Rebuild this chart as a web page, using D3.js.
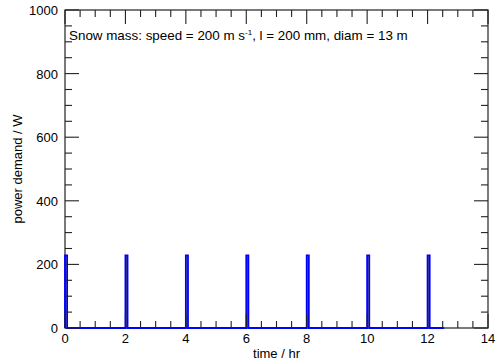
<!DOCTYPE html>
<html>
<head>
<meta charset="utf-8">
<script src="https://cdn.jsdelivr.net/npm/d3@7"></script>
<style>
  body { margin: 0; background: #fff; }
  text { font-family: "Liberation Sans", Arial, sans-serif; fill: #000; }
</style>
</head>
<body>
<div id="chart"></div>
<script>
// data
const spikeTimes = [0, 2, 4, 6, 8, 10, 12];   // hr, start of each spike
const spikePower = [228, 228, 228, 228, 228, 228, 228]; // W
const spikeLength = 0.07;   // hr
const runEnd = 12.55;       // hr, where the base line stops
const xTicks = [0, 2, 4, 6, 8, 10, 12, 14];
const yTicks = [0, 200, 400, 600, 800, 1000];

const fullwidth = 497, fullheight = 363;
const margin = {top: 10, right: 9, bottom: 35, left: 65};
const width = fullwidth - margin.left - margin.right;
const height = fullheight - margin.top - margin.bottom;

const svg = d3.select("#chart").append("svg")
  .attr("width", fullwidth)
  .attr("height", fullheight);

const g = svg.append("g").attr("transform", `translate(${margin.left},${margin.top})`);

const x = d3.scaleLinear().domain([0, 14]).range([0, width]);
const y = d3.scaleLinear().domain([0, 1000]).range([height, 0]);

// frame
g.append("rect")
  .attr("width", width).attr("height", height)
  .attr("fill", "none").attr("stroke", "#222").attr("stroke-width", 1.2);

// build the trace: flat at zero with short spikes
const pts = [];
spikeTimes.forEach((t, i) => {
  pts.push([t, 0], [t, spikePower[i]], [t + spikeLength, spikePower[i]], [t + spikeLength, 0]);
});
pts.push([runEnd, 0]);

const line = d3.line().x(d => x(d[0])).y(d => y(d[1]));
g.append("path")
  .datum(pts)
  .attr("fill", "none")
  .attr("stroke", "#0000ff")
  .attr("stroke-width", 1.8)
  .attr("d", line);

// dark centre line in each spike
g.selectAll(".core")
  .data(spikeTimes)
  .enter().append("line")
  .attr("x1", d => x(d + spikeLength / 2))
  .attr("x2", d => x(d + spikeLength / 2))
  .attr("y1", y(0))
  .attr("y2", (d, i) => y(spikePower[i]) + 1)
  .attr("stroke", "#1a1a70")
  .attr("stroke-width", 0.7);

// inward ticks on all four sides
const tickCol = "#222";
const xMinor = d3.range(0, 14.001, 0.5);
const yMinor = d3.range(0, 1000.001, 50);
const major = 14, minor = 7;
xMinor.forEach(v => {
  const len = xTicks.includes(v) ? major : minor;
  g.append("line").attr("x1", x(v)).attr("x2", x(v)).attr("y1", height).attr("y2", height - len)
    .attr("stroke", tickCol).attr("stroke-width", 1.1);
  g.append("line").attr("x1", x(v)).attr("x2", x(v)).attr("y1", 0).attr("y2", len)
    .attr("stroke", tickCol).attr("stroke-width", 1.1);
});
yMinor.forEach(v => {
  const len = yTicks.includes(v) ? major : minor;
  g.append("line").attr("x1", 0).attr("x2", len).attr("y1", y(v)).attr("y2", y(v))
    .attr("stroke", tickCol).attr("stroke-width", 1.1);
  g.append("line").attr("x1", width).attr("x2", width - len).attr("y1", y(v)).attr("y2", y(v))
    .attr("stroke", tickCol).attr("stroke-width", 1.1);
});

// tick labels
g.selectAll(".xl").data(xTicks).enter().append("text")
  .attr("x", d => x(d)).attr("y", height + 15)
  .attr("text-anchor", "middle").attr("font-size", 13)
  .text(d => d);
g.selectAll(".yl").data(yTicks).enter().append("text")
  .attr("x", -7).attr("y", d => y(d) + 5)
  .attr("text-anchor", "end").attr("font-size", 13)
  .text(d => d);

// axis titles
g.append("text")
  .attr("x", width / 2).attr("y", height + 30)
  .attr("text-anchor", "middle").attr("font-size", 13)
  .text("time / hr");
svg.append("text")
  .attr("transform", `translate(22,${margin.top + height / 2}) rotate(-90)`)
  .attr("text-anchor", "middle").attr("font-size", 13)
  .text("power demand / W");

// annotation
const note = g.append("text").attr("x", 4).attr("y", 30).attr("font-size", 13.4);
note.append("tspan").text("Snow mass: speed = 200 m s");
note.append("tspan").attr("font-size", 8).attr("dy", -5).text("-1");
note.append("tspan").attr("dy", 5).text(", l = 200 mm, diam = 13 m");
</script>
</body>
</html>
